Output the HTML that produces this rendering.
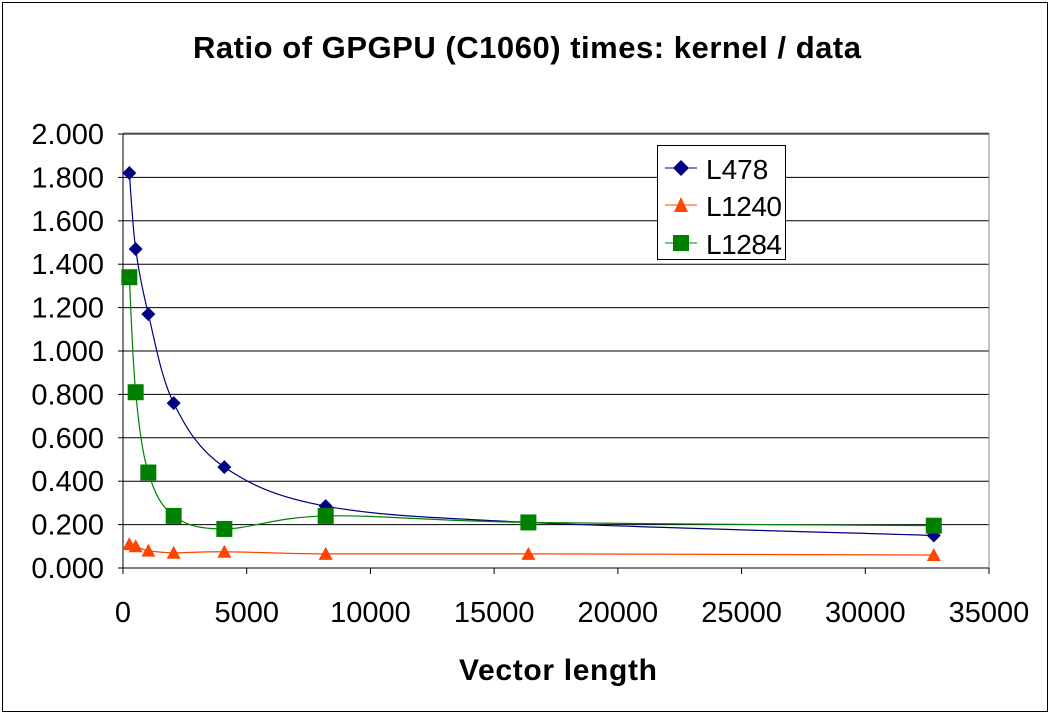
<!DOCTYPE html>
<html><head><meta charset="utf-8"><style>
body{margin:0;background:#fff}
svg{display:block;font-family:"Liberation Sans",Arial,sans-serif}
</style></head><body>
<svg id="chart" width="1051" height="715" viewBox="0 0 1051 715">
<rect x="2.5" y="2.5" width="1045" height="709" fill="#fff" stroke="#000"/>
<text x="527" y="58" text-anchor="middle" font-size="31" font-weight="bold" textLength="668">Ratio of GPGPU (C1060) times: kernel / data</text>
<g id="grid"></g>
<g id="axes"></g>
<g id="series"></g>
<text x="558" y="680" text-anchor="middle" font-size="30" font-weight="bold" textLength="198">Vector length</text>
<g>
<rect x="657.5" y="145.5" width="128" height="114" fill="#fff" stroke="#000"/>
<g><line x1="665" y1="168" x2="697" y2="168" stroke="#000080"/><path d="M681 160 L689 168 L681 176 L673 168Z" fill="#000080"/><text x="706" y="179" font-size="28">L478</text></g>
<g><line x1="665" y1="205" x2="697" y2="205" stroke="#ff4500"/><path d="M681 197 L688 212 L674 212Z" fill="#ff4500"/><text x="706" y="216" font-size="28" textLength="76">L1240</text></g>
<g><line x1="665" y1="243" x2="697" y2="243" stroke="#008000"/><rect x="673" y="235" width="16" height="16" fill="#008000"/><text x="706" y="254" font-size="28" textLength="76">L1284</text></g>
</g>
</svg>
<script>
const xValues=[256,512,1024,2048,4096,8192,16384,32768];
const l478=[1.82,1.47,1.17,0.76,0.465,0.285,0.21,0.15];
const l1240=[0.11,0.10,0.08,0.07,0.075,0.065,0.065,0.06];
const l1284=[1.34,0.81,0.44,0.24,0.18,0.24,0.21,0.195];
const xTicks=[0,5000,10000,15000,20000,25000,30000,35000];
const yTicks=[0,0.2,0.4,0.6,0.8,1.0,1.2,1.4,1.6,1.8,2.0];
const X0=123,X1=989,Y0=568,Y1=134;
const sx=v=>X0+v/35000*(X1-X0);
const sy=v=>Y0-v/2*(Y0-Y1);
const NS='http://www.w3.org/2000/svg';
function mk(p,t,a){const e=document.createElementNS(NS,t);for(const k in a)e.setAttribute(k,a[k]);p.appendChild(e);return e;}
const grid=document.getElementById('grid'),axes=document.getElementById('axes'),ser=document.getElementById('series');
yTicks.forEach(t=>{
 if(t>0){const l=mk(grid,'line',{x1:X0,x2:X1,y1:sy(t),y2:sy(t),stroke:'#000'});
 
 }
 const tx=mk(axes,'text',{x:X0-19,y:sy(t)+10,'text-anchor':'end','font-size':'29'});tx.textContent=t.toFixed(3);
 
 
 mk(axes,'line',{x1:X0-5,x2:X0,y1:sy(t),y2:sy(t),stroke:'#000'});
});
mk(grid,'line',{x1:X0,x2:X1,y1:Y1-1,y2:Y1-1,stroke:'#888'});
mk(grid,'line',{x1:X1,x2:X1,y1:Y1-1,y2:Y0,stroke:'#888'});
xTicks.forEach(t=>{
 mk(axes,'line',{x1:sx(t),x2:sx(t),y1:Y0,y2:Y0+6,stroke:'#000'});
 const tx=mk(axes,'text',{x:sx(t),y:Y0+54,'text-anchor':'middle','font-size':'29'});tx.textContent=t;
 
 
});
mk(axes,'line',{x1:X0,x2:X1,y1:Y0,y2:Y0,stroke:'#000'});
mk(axes,'line',{x1:X0,x2:X0,y1:Y1,y2:Y0,stroke:'#000'});
function smooth(pts){let d=`M${pts[0][0]},${pts[0][1]}`;for(let i=0;i<pts.length-1;i++){const p0=pts[i-1]||pts[i],p1=pts[i],p2=pts[i+1],p3=pts[i+2]||p2;const t=6;d+=` C${p1[0]+(p2[0]-p0[0])/t},${p1[1]+(p2[1]-p0[1])/t} ${p2[0]-(p3[0]-p1[0])/t},${p2[1]-(p3[1]-p1[1])/t} ${p2[0]},${p2[1]}`;}return d;}
function series(vals,color,shape,name){
 const g=mk(ser,'g',{});
 
 
 const pts=vals.map((v,i)=>[sx(xValues[i]),sy(v)]);
 mk(g,'path',{d:smooth(pts),fill:'none',stroke:color,'stroke-width':1.2});
 pts.forEach(([x,y])=>{let m;
  if(shape==='d')m=mk(g,'path',{d:`M${x} ${y-7}L${x+7} ${y}L${x} ${y+7}L${x-7} ${y}Z`,fill:color});
  else if(shape==='t')m=mk(g,'path',{d:`M${x} ${y-7}L${x+7} ${y+6}L${x-7} ${y+6}Z`,fill:color});
  else m=mk(g,'rect',{x:x-8,y:y-8,width:16,height:16,fill:color});
  
  });
}
series(l1240,'#ff4500','t','series-l1240');
series(l478,'#000080','d','series-l478');
series(l1284,'#008000','s','series-l1284');
</script>
</body></html>
